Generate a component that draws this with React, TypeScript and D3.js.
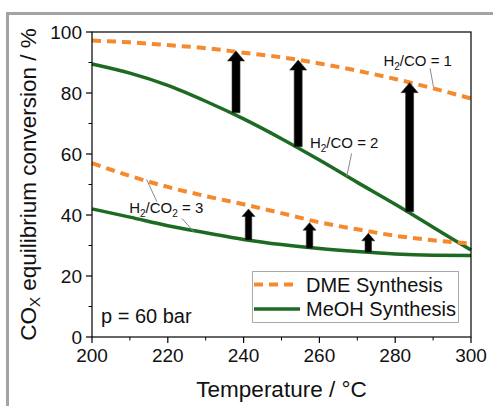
import React from "react";
import * as d3 from "d3";

const temps = [200, 210, 220, 230, 240, 250, 260, 270, 280, 290, 300];
const dmeCO = [97.2, 96.6, 95.7, 94.7, 93.2, 91.7, 89.7, 87.3, 84.6, 81.5, 78.2];
const meohCO = [89.5, 86.5, 82.5, 77.3, 71.5, 65, 58, 50.7, 43.5, 36, 28.5];
const dmeCO2 = [57, 52.8, 49.2, 46.2, 43.5, 40.6, 37.6, 35.3, 33.2, 31.7, 30.6];
const meohCO2 = [42, 39.3, 36.5, 34.2, 32, 30.3, 29, 28, 27.2, 26.8, 26.7];

const arrowT = [238, 254.4, 283.8, 241.3, 257.4, 272.9];
const arrowFrom = [73.5, 62.4, 41.1, 31.8, 29.1, 27.8];
const arrowTo = [93.8, 90.8, 83.4, 42, 37.5, 34];

const xTicks = [200, 220, 240, 260, 280, 300];
const xMinor = [210, 230, 250, 270, 290];
const yTicks = [0, 20, 40, 60, 80, 100];
const yMinor = [10, 30, 50, 70, 90];

const FONT = "'Liberation Sans', Arial, Helvetica, sans-serif";
const ORANGE = "#f5892e";
const GREEN = "#1d6b22";

const W = 493, H = 406;
const L = 92, R = 471, T = 32, B = 337;

export default function App() {
  const x = d3.scaleLinear().domain([200, 300]).range([L, R]);
  const y = d3.scaleLinear().domain([0, 100]).range([B, T]);
  const line = (vals: number[]) =>
    d3.line<number>().x((_, i) => x(temps[i])).y((v) => y(v)).curve(d3.curveMonotoneX)(vals) || "";

  const arrowPath = (i: number) => {
    const cx = x(arrowT[i]);
    const y0 = y(arrowFrom[i]);
    const y1 = y(arrowTo[i]);
    const big = y0 - y1 > 50;
    const sw = big ? 8 : 6.5;
    const hw = big ? 17 : 13;
    const hl = big ? 10 : 7.5;
    return `M${cx - sw / 2},${y0} L${cx - sw / 2},${y1 + hl} L${cx - hw / 2},${y1 + hl} L${cx},${y1} L${cx + hw / 2},${y1 + hl} L${cx + sw / 2},${y1 + hl} L${cx + sw / 2},${y0} Z`;
  };

  const leaders: [number, number, number, number][] = [
    [289.2, 88.1, 290.1, 82.0],
    [268.5, 60.2, 267.2, 52.6],
    [214.4, 51.7, 217.1, 44.4],
    [223.7, 38.9, 226.9, 34.5],
  ];

  const sub = (main: string, s: string, rest: string, tx: number, ty: number, s2?: string, rest2?: string) => (
    <text x={x(tx)} y={y(ty)} fontSize={15} fontFamily={FONT} fill="#111">
      <tspan>{main}</tspan>
      <tspan fontSize={10} dy={4}>{s}</tspan>
      {s2 === undefined ? (
        <tspan dy={-4}>{rest}</tspan>
      ) : (
        <>
          <tspan dy={-4}>{rest}</tspan>
          <tspan fontSize={10} dy={4}>{s2}</tspan>
          <tspan dy={-4}>{rest2}</tspan>
        </>
      )}
    </text>
  );

  return (
    <svg width={W} height={H} style={{ position: "absolute", left: 0, top: 0 }} fontFamily={FONT}>
      <rect x={0} y={0} width={W} height={H} fill="#fff" />
      <rect x={7.5} y={13.5} width={W + 20} height={H + 20} fill="none" stroke="#a3a3a3" strokeWidth={3} />

      {/* curves */}
      <path d={line(meohCO)} fill="none" stroke={GREEN} strokeWidth={3.5} />
      <path d={line(meohCO2)} fill="none" stroke={GREEN} strokeWidth={3.5} />
      <path d={line(dmeCO)} fill="none" stroke={ORANGE} strokeWidth={4} strokeDasharray="9,6" />
      <path d={line(dmeCO2)} fill="none" stroke={ORANGE} strokeWidth={4} strokeDasharray="9,6" />

      {/* arrows */}
      {arrowT.map((_, i) => (
        <path key={i} d={arrowPath(i)} fill="#000" stroke="#333" strokeWidth={0.6} />
      ))}

      {/* leaders */}
      {leaders.map((l, i) => (
        <line key={i} x1={x(l[0])} y1={y(l[1])} x2={x(l[2])} y2={y(l[3])} stroke="#8a8a8a" strokeWidth={1} />
      ))}

      {sub("H", "2", "/CO = 1", 276.9, 88.9)}
      {sub("H", "2", "/CO = 2", 257.5, 61.9)}
      {sub("H", "2", "/CO", 209.8, 40.75, "2", " = 3")}

      {/* frame */}
      <rect x={L} y={T} width={R - L} height={B - T} fill="none" stroke="#000" strokeWidth={1.2} />

      {/* x axis ticks */}
      {xTicks.map((t) => (
        <g key={t}>
          <line x1={x(t)} x2={x(t)} y1={B} y2={B + 6} stroke="#000" strokeWidth={1.2} />
          <text x={x(t)} y={362} textAnchor="middle" fontSize={19} fill="#111">{t}</text>
        </g>
      ))}
      {xMinor.map((t) => (
        <line key={t} x1={x(t)} x2={x(t)} y1={B} y2={B + 3.5} stroke="#000" strokeWidth={1} />
      ))}
      {yTicks.map((t) => (
        <g key={t}>
          <line x1={L - 6} x2={L} y1={y(t)} y2={y(t)} stroke="#000" strokeWidth={1.2} />
          <text x={82} y={y(t)} dy="0.35em" textAnchor="end" fontSize={19} fill="#111">{t}</text>
        </g>
      ))}
      {yMinor.map((t) => (
        <line key={t} x1={L - 3.5} x2={L} y1={y(t)} y2={y(t)} stroke="#000" strokeWidth={1} />
      ))}

      <text x={(L + R) / 2} y={397} textAnchor="middle" fontSize={22.5} fill="#111">Temperature / °C</text>
      <text transform={`translate(36,${(T + B) / 2}) rotate(-90)`} textAnchor="middle" fontSize={22.5} fill="#111">
        <tspan>CO</tspan>
        <tspan fontSize={15} dy={4}>X</tspan>
        <tspan dy={-4}> equilibrium conversion / %</tspan>
      </text>

      <text x={101} y={323} fontSize={20} fill="#111">p = 60 bar</text>

      {/* legend */}
      <rect x={252.5} y={271.5} width={206} height={51} fill="#fff" stroke="#aaa" strokeWidth={1} />
      <line x1={254} x2={298} y1={284.5} y2={284.5} stroke={ORANGE} strokeWidth={4} strokeDasharray="9,6" />
      <line x1={254} x2={300} y1={309} y2={309} stroke={GREEN} strokeWidth={3.5} />
      <text x={306} y={292} fontSize={20} fill="#111">DME Synthesis</text>
      <text x={306} y={316} fontSize={20} fill="#111">MeOH Synthesis</text>
    </svg>
  );
}
